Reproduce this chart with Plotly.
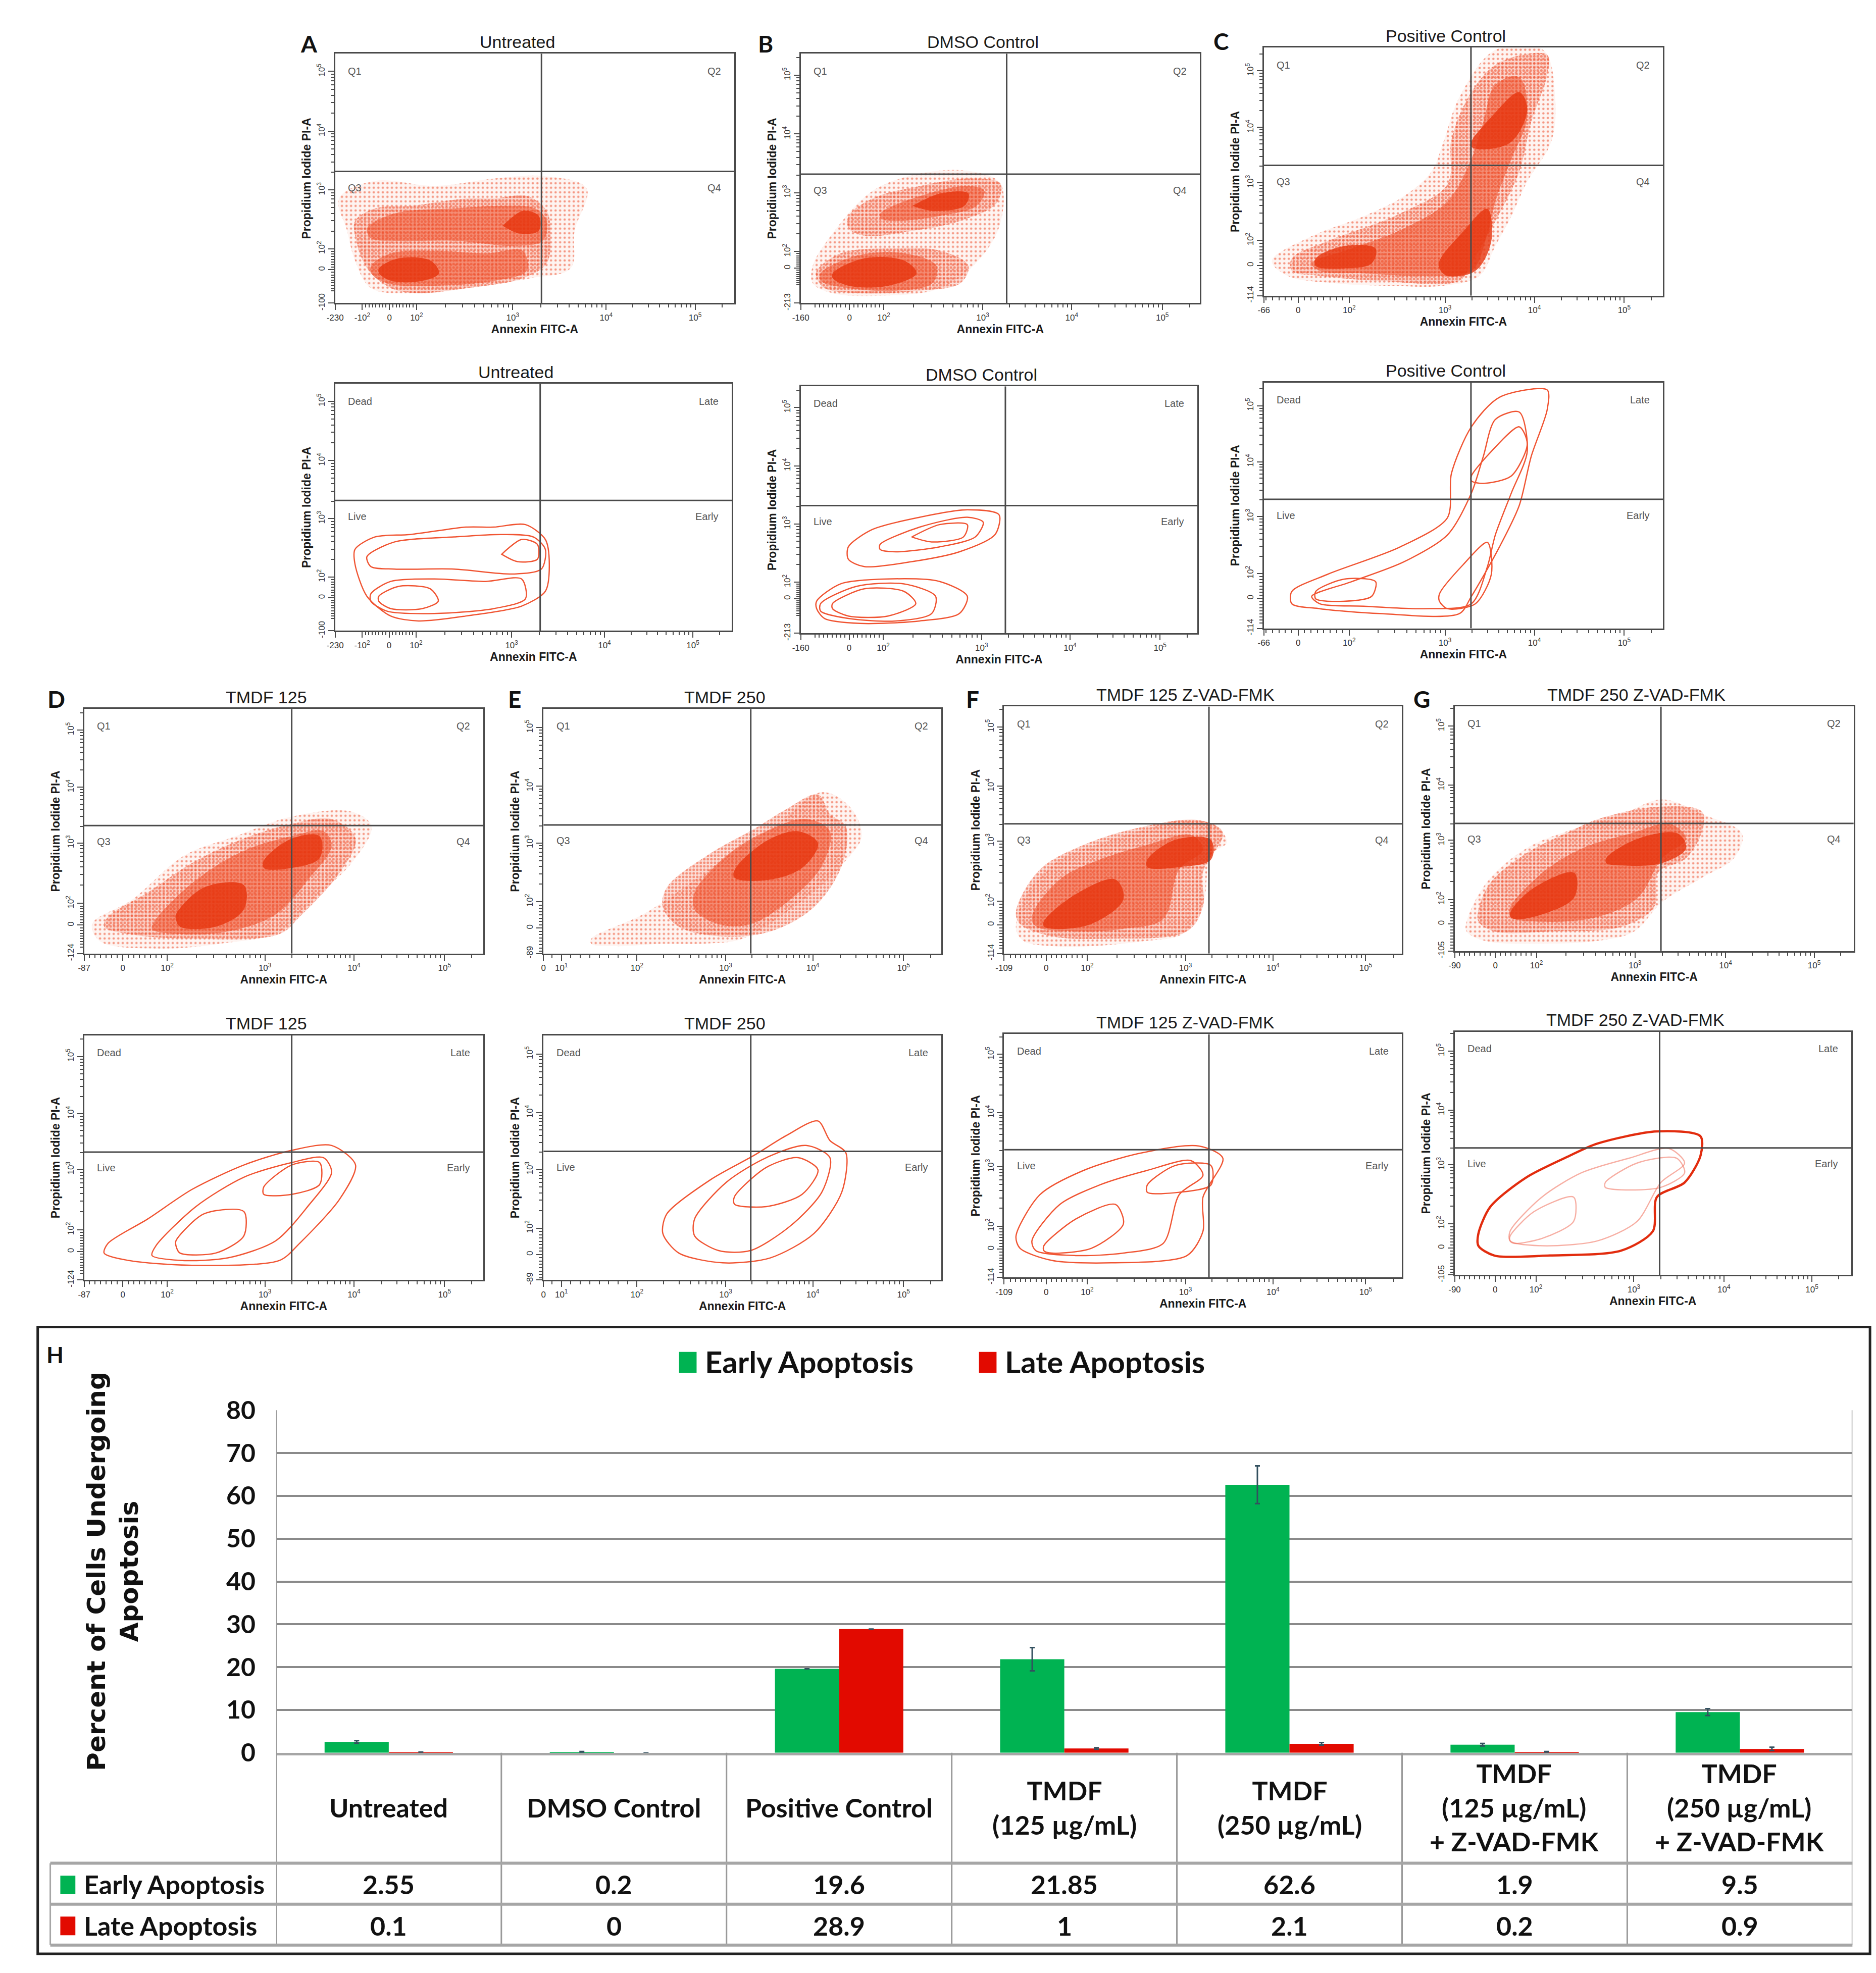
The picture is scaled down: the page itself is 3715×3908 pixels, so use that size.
import math
import plotly.graph_objects as go

W, H = 3715, 3908
K = W / 1488  # panel boxes below were measured on a 1488 px wide copy of the figure

CYTO_FONT = "Liberation Sans"
BAR_FONT = "Lato"
FRAME = "#4a4a4a"
DOT = "rgb(236,60,22)"
CONTOUR = "rgb(240,84,50)"
GREEN = "#00b352"
RED = "#e20a00"

# ---------- H: percent of cells undergoing apoptosis ----------
groups = ["Untreated", "DMSO Control", "Positive Control",
          "TMDF<br>(125 µg/mL)", "TMDF<br>(250 µg/mL)",
          "TMDF<br>(125 µg/mL)<br>+ Z-VAD-FMK", "TMDF<br>(250 µg/mL)<br>+ Z-VAD-FMK"]
early_apoptosis = [2.55, 0.2, 19.6, 21.85, 62.6, 1.9, 9.5]
late_apoptosis = [0.1, 0, 28.9, 1, 2.1, 0.2, 0.9]
early_err = [0.3, 0.1, None, 2.7, 4.4, 0.3, 0.8]
late_err = [0.05, 0, None, 0.2, 0.3, 0.1, 0.4]

# ---------- flow cytometry (axes in % of the plot box, logicle scale) ----------
untreated_gate = [51.7, 52.8]
untreated_xticks = [0, 6.8, 13.6, 20.4, 44.5, 67.9, 90.2]
untreated_xlabels = ["-230", "-10<sup>2</sup>", "0", "10<sup>2</sup>", "10<sup>3</sup>", "10<sup>4</sup>", "10<sup>5</sup>"]
untreated_yticks = [0, 13.4, 21.8, 45.4, 68.9, 92.9]
untreated_ylabels = ["-100", "0", "10<sup>2</sup>", "10<sup>3</sup>", "10<sup>4</sup>", "10<sup>5</sup>"]
untreated_halo_x = [1, 10, 25, 40, 52, 63, 60, 59, 49, 33, 19, 9, 5, 3]
untreated_halo_y = [42, 49, 47, 50, 51, 46, 29, 14, 10, 6, 4, 6, 17, 29]
untreated_outer_x = [5, 10, 19, 33, 40, 48, 53, 54, 53, 47, 33, 21, 14, 8, 5]
untreated_outer_y = [33, 38, 39, 42, 42, 43, 37, 27, 16, 10, 6, 4, 6, 14, 27]
untreated_mid_x = [9, 14, 25, 38, 47, 48, 40, 25, 13, 9, None, 8, 15, 30, 42, 50, 53, 52, 45, 30, 15, 9]
untreated_mid_y = [15, 20, 21, 20, 21, 13, 9, 7, 8, 12, None, 30, 36, 38, 39, 38, 33, 25, 23, 25, 25, 26]
untreated_core_x = [11, 16, 24, 26, 22, 14, 11, None, 42, 47, 51, 51, 46, 42]
untreated_core_y = [14, 18, 17, 12, 9, 9, 12, None, 31, 37, 35, 29, 28, 31]

dmso_gate = [51.6, 51.7]
dmso_xticks = [0, 12.2, 20.8, 45.6, 67.9, 90.6]
dmso_xlabels = ["-160", "0", "10<sup>2</sup>", "10<sup>3</sup>", "10<sup>4</sup>", "10<sup>5</sup>"]
dmso_yticks = [0, 14, 20.7, 44.3, 67.8, 91.4]
dmso_ylabels = ["-213", "0", "10<sup>2</sup>", "10<sup>3</sup>", "10<sup>4</sup>", "10<sup>5</sup>"]
dmso_halo_x = [3, 8, 18, 30, 42, 50, 50, 45, 35, 20, 8, 3]
dmso_halo_y = [15, 28, 45, 52, 53, 48, 32, 18, 6, 3, 4, 8]
dmso_outer_x = [4, 10, 22, 35, 42, 40, 30, 15, 6, 4, None, 12, 18, 30, 42, 50, 49, 40, 28, 16, 12]
dmso_outer_y = [13, 20, 22, 21, 15, 8, 5, 4, 6, 10, None, 35, 42, 47, 50, 48, 40, 33, 29, 27, 30]
dmso_mid_x = [5, 14, 26, 34, 33, 24, 12, 5, None, 20, 30, 42, 46, 44, 35, 24, 20]
dmso_mid_y = [12, 19, 20, 15, 8, 5, 6, 9, None, 36, 43, 47, 45, 39, 35, 33, 34]
dmso_core_x = [8, 16, 26, 29, 22, 12, 8, None, 28, 35, 42, 41, 33, 28]
dmso_core_y = [12, 18, 17, 12, 7, 7, 10, None, 39, 44, 44, 39, 37, 39]

positive_gate = [51.9, 52.5]
positive_xticks = [0, 8.6, 21.4, 45.4, 67.8, 90.3]
positive_xlabels = ["-66", "0", "10<sup>2</sup>", "10<sup>3</sup>", "10<sup>4</sup>", "10<sup>5</sup>"]
positive_yticks = [0, 12.2, 22.3, 45.5, 67.8, 90.6]
positive_ylabels = ["-114", "0", "10<sup>2</sup>", "10<sup>3</sup>", "10<sup>4</sup>", "10<sup>5</sup>"]
positive_halo_x = [2, 12, 25, 35, 42, 45, 49, 58, 70, 73, 72, 66, 62, 58, 54, 45, 32, 18, 6]
positive_halo_y = [14, 24, 32, 40, 50, 62, 80, 99, 99, 80, 62, 46, 32, 20, 8, 4, 4, 5, 8]
positive_outer_x = [7, 16, 34, 46, 47, 52, 59, 71, 71, 67, 64, 59, 52, 49, 29, 14, 7]
positive_outer_y = [15, 22, 33, 45, 63, 82, 94, 97, 89, 70, 50, 33, 13, 6, 6, 8, 10]
positive_mid_x = [12, 22, 35, 46, 52, 55, 58, 64, 66, 62, 58, 56, 52, 40, 25, 14]
positive_mid_y = [13, 19, 27, 38, 55, 70, 85, 88, 72, 55, 38, 25, 10, 8, 9, 10]
positive_core_x = [13, 20, 28, 27, 20, 13, None, 44, 50, 56, 57, 53, 46, 44, None, 52, 57, 64, 66, 62, 55, 52]
positive_core_y = [15, 20, 19, 13, 11, 12, None, 14, 26, 35, 22, 10, 8, 11, None, 62, 72, 82, 75, 62, 59, 60]

tmdf125_gate = [52, 52.3]
tmdf125_xticks = [0, 9.7, 20.8, 45.3, 67.6, 90.3]
tmdf125_xlabels = ["-87", "0", "10<sup>2</sup>", "10<sup>3</sup>", "10<sup>4</sup>", "10<sup>5</sup>"]
tmdf125_yticks = [0, 11.6, 20.5, 45.2, 68, 91.4]
tmdf125_ylabels = ["-124", "0", "10<sup>2</sup>", "10<sup>3</sup>", "10<sup>4</sup>", "10<sup>5</sup>"]
tmdf125_halo_x = [2, 12, 25, 38, 52, 67, 72, 67, 58, 49, 34, 19, 4]
tmdf125_halo_y = [12, 22, 40, 48, 56, 58, 52, 37, 23, 9, 4, 2, 5]
tmdf125_outer_x = [6, 16, 27, 40, 52, 62, 68, 64, 54, 49, 27, 11, 5]
tmdf125_outer_y = [15, 25, 37, 47, 53, 55, 47, 33, 15, 8, 6, 8, 11]
tmdf125_mid_x = [18, 28, 40, 52, 60, 62, 56, 48, 36, 24, 17]
tmdf125_mid_y = [14, 30, 42, 48, 50, 44, 30, 16, 9, 8, 10]
tmdf125_core_x = [23, 30, 40, 40, 33, 24, 23, None, 45, 52, 59, 59, 52, 45]
tmdf125_core_y = [16, 27, 28, 18, 11, 11, 14, None, 38, 47, 48, 39, 35, 35]

tmdf250_gate = [52.1, 52.6]
tmdf250_xticks = [0, 4.5, 23.5, 45.8, 67.7, 90.5]
tmdf250_xlabels = ["0", "10<sup>1</sup>", "10<sup>2</sup>", "10<sup>3</sup>", "10<sup>4</sup>", "10<sup>5</sup>"]
tmdf250_yticks = [0, 10.4, 21.2, 45.2, 68.4, 92.4]
tmdf250_ylabels = ["-89", "0", "10<sup>2</sup>", "10<sup>3</sup>", "10<sup>4</sup>", "10<sup>5</sup>"]
tmdf250_halo_x = [12, 25, 38, 48, 58, 70, 77, 80, 76, 70, 62, 50, 40, 30, 18, 12]
tmdf250_halo_y = [6, 16, 30, 42, 52, 66, 60, 48, 38, 28, 18, 6, 4, 4, 3, 4]
tmdf250_outer_x = [31, 42, 53, 61, 69, 72, 76, 75, 68, 57, 45, 34, 30]
tmdf250_outer_y = [27, 41, 51, 59, 65, 57, 52, 36, 19, 9, 7, 11, 19]
tmdf250_mid_x = [38, 46, 56, 66, 72, 70, 62, 52, 44, 38]
tmdf250_mid_y = [25, 40, 50, 55, 50, 36, 22, 12, 12, 18]
tmdf250_core_x = [48, 56, 64, 69, 65, 56, 48]
tmdf250_core_y = [34, 46, 50, 45, 35, 30, 31]

tmdf125z_gate = [51.5, 52.5]
tmdf125z_xticks = [0, 10.6, 20.9, 45.6, 67.6, 90.9]
tmdf125z_xlabels = ["-109", "0", "10<sup>2</sup>", "10<sup>3</sup>", "10<sup>4</sup>", "10<sup>5</sup>"]
tmdf125z_yticks = [0, 11.6, 21.1, 45.5, 67.7, 91.7]
tmdf125z_ylabels = ["-114", "0", "10<sup>2</sup>", "10<sup>3</sup>", "10<sup>4</sup>", "10<sup>5</sup>"]
tmdf125z_halo_x = [3, 6, 14, 25, 35, 45, 53, 56, 52, 50, 45, 35, 22, 12, 5]
tmdf125z_halo_y = [10, 25, 38, 45, 50, 54, 52, 45, 40, 20, 8, 5, 3, 3, 5]
tmdf125z_outer_x = [3, 9, 20, 34, 49, 55, 50, 50, 46, 27, 12, 4]
tmdf125z_outer_y = [17, 34, 44, 51, 54, 49, 33, 19, 9, 6, 7, 12]
tmdf125z_mid_x = [7, 14, 24, 36, 47, 50, 44, 40, 30, 18, 8]
tmdf125z_mid_y = [15, 30, 38, 44, 48, 42, 34, 14, 10, 9, 11]
tmdf125z_core_x = [10, 18, 28, 30, 22, 12, 10, None, 36, 43, 52, 52, 44, 36]
tmdf125z_core_y = [13, 24, 30, 22, 12, 10, 11, None, 38, 46, 46, 38, 35, 35]

tmdf250z_gate = [51.7, 52.2]
tmdf250z_xticks = [0, 10.2, 20.5, 45.2, 67.9, 90.1]
tmdf250z_xlabels = ["-90", "0", "10<sup>2</sup>", "10<sup>3</sup>", "10<sup>4</sup>", "10<sup>5</sup>"]
tmdf250z_yticks = [0, 11.1, 21.1, 45.3, 67.8, 92]
tmdf250z_ylabels = ["-105", "0", "10<sup>2</sup>", "10<sup>3</sup>", "10<sup>4</sup>", "10<sup>5</sup>"]
tmdf250z_halo_x = [3, 8, 18, 30, 42, 52, 62, 72, 70, 62, 52, 45, 35, 20, 8, 3]
tmdf250z_halo_y = [12, 28, 42, 50, 56, 62, 56, 48, 38, 30, 20, 8, 4, 3, 4, 8]
tmdf250z_outer_x = [6, 9, 18, 29, 36, 51, 62, 62, 58, 51, 50, 42, 24, 10, 6]
tmdf250z_outer_y = [17, 28, 40, 49, 54, 59, 57, 49, 38, 32, 18, 10, 8, 8, 12]
tmdf250z_mid_x = [14, 22, 32, 44, 54, 58, 52, 46, 36, 22, 14]
tmdf250z_mid_y = [18, 32, 42, 48, 52, 46, 38, 22, 14, 12, 14]
tmdf250z_core_x = [38, 46, 56, 58, 52, 42, 38, None, 14, 20, 30, 30, 22, 15, 14]
tmdf250z_core_y = [38, 46, 48, 42, 36, 35, 36, None, 16, 26, 32, 22, 15, 13, 14]


def sample(name, title):
    g = globals()
    return dict(title=title, gate=g[name + "_gate"],
                xt=g[name + "_xticks"], xl=g[name + "_xlabels"],
                yt=g[name + "_yticks"], yl=g[name + "_ylabels"],
                halo=(g[name + "_halo_x"], g[name + "_halo_y"]),
                outer=(g[name + "_outer_x"], g[name + "_outer_y"]),
                mid=(g[name + "_mid_x"], g[name + "_mid_y"]),
                core=(g[name + "_core_x"], g[name + "_core_y"]))


samples = {
    "untreated": sample("untreated", "Untreated"),
    "dmso": sample("dmso", "DMSO Control"),
    "positive": sample("positive", "Positive Control"),
    "tmdf125": sample("tmdf125", "TMDF 125"),
    "tmdf250": sample("tmdf250", "TMDF 250"),
    "tmdf125z": sample("tmdf125z", "TMDF 125 Z-VAD-FMK"),
    "tmdf250z": sample("tmdf250z", "TMDF 250 Z-VAD-FMK"),
}

# kind, sample, box (left, right, top, bottom), panel letter
panels = [
    ("dot", "untreated", (257, 575, 27, 228), ("A", 236, 19)),
    ("dot", "dmso", (628, 946, 27, 228), ("B", 600, 19)),
    ("dot", "positive", (997, 1315, 22, 222), ("C", 963, 17)),
    ("contour", "untreated", (257, 573, 293, 492), None),
    ("contour", "dmso", (628, 944, 295, 494), None),
    ("contour", "positive", (997, 1315, 292, 490), None),
    ("dot", "tmdf125", (57, 375, 555, 752), ("D", 35, 547)),
    ("dot", "tmdf250", (423, 740, 555, 752), ("E", 400, 547)),
    ("dot", "tmdf125z", (790, 1107, 553, 752), ("F", 765, 547)),
    ("dot", "tmdf250z", (1149, 1467, 553, 750), ("G", 1123, 547)),
    ("contour", "tmdf125", (57, 375, 818, 1015), None),
    ("contour", "tmdf250", (423, 740, 818, 1015), None),
    ("contour", "tmdf125z", (790, 1107, 817, 1013), None),
    ("contour", "tmdf250z", (1149, 1465, 815, 1011), None),
]


def px(v):
    return v * K / W


def py(v):
    return 1 - v * K / H


def closed(xs, ys):
    # close every None separated outline so it can be drawn as a contour line
    ox, oy, sx, sy = [], [], [], []
    for x, y in list(zip(xs, ys)) + [(None, None)]:
        if x is None:
            if sx:
                ox += sx + [sx[0], None]
                oy += sy + [sy[0], None]
            sx, sy = [], []
        else:
            sx.append(x)
            sy.append(y)
    return ox[:-1], oy[:-1]


def minor_ticks(pos):
    dec = pos[-4:]
    dec = dec + [dec[-1] + (dec[-1] - dec[-2])]
    out = []
    for a, b in zip(dec[:-1], dec[1:]):
        out += [a + (b - a) * math.log10(m) for m in range(2, 10)]
    step = (dec[0] - pos[-5]) / 8
    out += [pos[-5] + step * k for k in range(-8, 8)]
    return [round(v, 2) for v in out if 0.4 < v < 99.6 and v not in pos]


def cyto_axis(dom, anchor, ticks, labels, title, angle):
    return dict(
        domain=dom, anchor=anchor, range=[0, 100], fixedrange=True,
        showgrid=False, zeroline=False, showline=True, mirror=True,
        linecolor=FRAME, linewidth=3,
        tickmode="array", tickvals=ticks, ticktext=labels, tickangle=angle,
        ticks="outside", ticklen=11, tickwidth=2, tickcolor=FRAME,
        tickfont=dict(family=CYTO_FONT, size=17, color="#333"),
        minor=dict(tickmode="array", tickvals=minor_ticks(ticks), ticks="outside",
                   ticklen=6, tickwidth=2, tickcolor=FRAME),
        title=dict(text=f"<b>{title}</b>", standoff=3,
                   font=dict(family=CYTO_FONT, size=23, color="#1a1a1a")),
    )


dot_styles = [
    dict(fillpattern=dict(shape=".", fgcolor=DOT, bgcolor="rgba(242,110,80,0.08)", size=9, solidity=0.2)),
    dict(fillpattern=dict(shape=".", fgcolor=DOT, bgcolor="rgba(242,100,70,0.20)", size=7, solidity=0.42)),
    dict(fillcolor="rgba(238,70,30,0.5)"),
    dict(fillcolor="rgba(230,52,14,0.8)"),
]
SMOOTH = dict(shape="spline", smoothing=1.0)

fig = go.Figure()
layout = dict(width=W, height=H, margin=dict(l=0, r=0, t=0, b=0),
              paper_bgcolor="white", plot_bgcolor="white", showlegend=False,
              barmode="group", bargap=0.43, bargroupgap=0)
annotations, shapes = [], []

for i, (kind, key, box, letter) in enumerate(panels, start=1):
    l, r, t, b = box
    s = samples[key]
    sfx = "" if i == 1 else str(i)
    xr, yr = "x" + sfx, "y" + sfx
    layout["xaxis" + sfx] = cyto_axis([px(l), px(r)], yr, s["xt"], s["xl"], "Annexin FITC-A", 0)
    layout["yaxis" + sfx] = cyto_axis([py(b), py(t)], xr, s["yt"], s["yl"], "Propidium Iodide PI-A", -90)

    if kind == "dot":
        for lvl, style in zip(("halo", "outer", "mid", "core"), dot_styles):
            cx, cy = closed(*s[lvl])
            fig.add_trace(go.Scatter(x=cx, y=cy, xaxis=xr, yaxis=yr, mode="lines",
                                     line=dict(width=0, **SMOOTH),
                                     fill="toself", hoverinfo="skip", **style))
        names = ("Q1", "Q2", "Q3", "Q4")
    else:
        heavy = key == "tmdf250z"
        for lvl in ("outer", "mid", "core"):
            cx, cy = closed(*s[lvl])
            w = 4.5 if heavy and lvl == "outer" else 2.5
            col = "rgb(226,44,14)" if heavy and lvl == "outer" else CONTOUR
            if heavy and lvl != "outer":
                col = "rgba(240,110,90,0.55)"
            fig.add_trace(go.Scatter(x=cx, y=cy, xaxis=xr, yaxis=yr, mode="lines",
                                     line=dict(color=col, width=w, shape="spline", smoothing=0.8),
                                     hoverinfo="skip"))
        names = ("Dead", "Late", "Live", "Early")

    qx, qy = s["gate"]
    shapes.append(dict(type="line", xref=xr, yref=yr, x0=qx, x1=qx, y0=0, y1=100,
                       line=dict(color=FRAME, width=3)))
    shapes.append(dict(type="line", xref=xr, yref=yr, x0=0, x1=100, y0=qy, y1=qy,
                       line=dict(color=FRAME, width=3)))
    for name, (ax, ay, anc) in zip(names, ((3, 93, "left"), (97, 93, "right"),
                                           (3, qy - 6.5, "left"), (97, qy - 6.5, "right"))):
        annotations.append(dict(xref=xr, yref=yr, x=ax, y=ay, text=name, showarrow=False,
                                xanchor=anc, yanchor="middle",
                                font=dict(family=CYTO_FONT, size=20, color="#555")))

    annotations.append(dict(xref="paper", yref="paper", x=px((l + r) / 2 - 14), y=py(t - 1),
                            xanchor="center", yanchor="bottom", text=s["title"], showarrow=False,
                            font=dict(family=CYTO_FONT, size=34, color="#1a1a1a")))
    if letter:
        annotations.append(dict(xref="paper", yref="paper", x=px(letter[1]), y=py(letter[2]),
                                xanchor="center", yanchor="middle", text=f"<b>{letter[0]}</b>",
                                showarrow=False, font=dict(family=BAR_FONT, size=46, color="#111")))

# ---------- panel H ----------
bx, by = "x15", "y15"
layout["xaxis15"] = dict(domain=[px(210), px(1466)], anchor=by, range=[-0.5, 6.5], fixedrange=True,
                         showticklabels=False, ticks="", showgrid=False, zeroline=False,
                         showline=True, linecolor="#a6a6a6", linewidth=5)
layout["yaxis15"] = dict(domain=[py(1396), py(1120)], anchor=bx, range=[0, 80], dtick=10, tick0=0,
                         fixedrange=True, showgrid=True, gridcolor="#8a8a8a", gridwidth=4,
                         zeroline=False, showline=False, ticks="", ticklabelstandoff=40,
                         tickfont=dict(family=BAR_FONT, size=50, color="#111", weight="bold"))

fig.add_trace(go.Bar(x=list(range(len(groups))), y=early_apoptosis, xaxis=bx, yaxis=by,
                     name="Early Apoptosis", marker=dict(color=GREEN, line=dict(width=0)),
                     error_y=dict(type="data", array=early_err, color="#33505f", thickness=3, width=5)))
fig.add_trace(go.Bar(x=list(range(len(groups))), y=late_apoptosis, xaxis=bx, yaxis=by,
                     name="Late Apoptosis", marker=dict(color=RED, line=dict(width=0)),
                     error_y=dict(type="data", array=late_err, color="#33505f", thickness=3, width=5)))

# table grid under the bars
for k in range(len(groups) + 1):
    top = 1120 if k in (0, len(groups)) else 1396
    shapes.append(dict(type="line", xref=bx, yref="paper", x0=k - 0.5, x1=k - 0.5,
                       y0=py(top), y1=py(1551), line=dict(color="#999", width=3)))
for yv in (1485, 1518, 1551):
    shapes.append(dict(type="line", xref="paper", yref="paper", x0=px(30), x1=px(1466),
                       y0=py(yv), y1=py(yv), line=dict(color="#a6a6a6", width=6)))
shapes.append(dict(type="line", xref="paper", yref="paper", x0=px(30), x1=px(30),
                   y0=py(1485), y1=py(1551), line=dict(color="#a6a6a6", width=3)))
# frame of panel H
shapes.append(dict(type="rect", xref="paper", yref="paper", x0=px(20), x1=px(1480),
                   y0=py(1558), y1=py(1053), line=dict(color="#222", width=5)))

table_font = dict(family=BAR_FONT, size=52, color="#111", weight="bold")
for k, g in enumerate(groups):
    annotations.append(dict(xref=bx, yref="paper", x=k, y=py(1440), text=g, showarrow=False,
                            xanchor="center", yanchor="middle", align="center", font=table_font))
    annotations.append(dict(xref=bx, yref="paper", x=k, y=py(1502), text=f"{early_apoptosis[k]:g}",
                            showarrow=False, xanchor="center", yanchor="middle", font=table_font))
    annotations.append(dict(xref=bx, yref="paper", x=k, y=py(1535), text=f"{late_apoptosis[k]:g}",
                            showarrow=False, xanchor="center", yanchor="middle", font=table_font))

# series keys: legend at the top and row labels of the table
for label, col, sx, sy, size in (("Early Apoptosis", GREEN, 531, 1081, 60),
                                 ("Late Apoptosis", RED, 770, 1081, 60),
                                 ("Early Apoptosis", GREEN, 38, 1502, 52),
                                 ("Late Apoptosis", RED, 38, 1535, 52)):
    half = 8 if size == 60 else 7
    shapes.append(dict(type="rect", xref="paper", yref="paper", x0=px(sx), x1=px(sx + 2 * half - 2),
                       y0=py(sy + half + 1), y1=py(sy - half), fillcolor=col, line=dict(width=0)))
    annotations.append(dict(xref="paper", yref="paper", x=px(sx + 2 * half + 4), y=py(sy), text=label,
                            showarrow=False, xanchor="left", yanchor="middle",
                            font=dict(family=BAR_FONT, size=size, color="#111", weight="bold")))

annotations.append(dict(xref="paper", yref="paper", x=px(80), y=py(1250),
                        text="Percent of Cells Undergoing<br>Apoptosis", textangle=-90,
                        showarrow=False, xanchor="center", yanchor="middle",
                        font=dict(family="DejaVu Sans", size=50, color="#111", weight="bold")))
annotations.append(dict(xref="paper", yref="paper", x=px(26), y=py(1075), text="<b>H</b>",
                        showarrow=False, xanchor="left", yanchor="middle",
                        font=dict(family=BAR_FONT, size=44, color="#111")))

layout["annotations"] = annotations
layout["shapes"] = shapes
fig.update_layout(**layout)

fig.write_html("out.html")
